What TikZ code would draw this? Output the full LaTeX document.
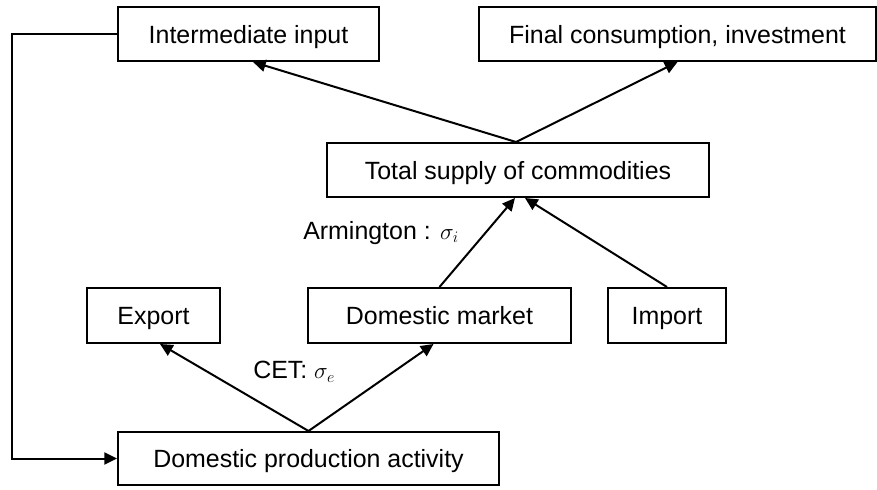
\documentclass[tikz,border=0pt]{standalone}
\usepackage{fontspec}
\setmainfont{Liberation Sans}
\usetikzlibrary{arrows.meta}
\tikzset{
  box/.style={draw, line width=1.5pt, inner sep=0pt, text height=16pt, text depth=2.5pt, font=\fontsize{18.7}{22}\selectfont},
  conn/.style={line width=1.5pt, -{Triangle[length=9.5pt,width=9pt]}},
  lbl/.style={font=\fontsize{18.7}{22}\selectfont, inner sep=0pt}
}
\begin{document}
\begin{tikzpicture}[x=0.75pt,y=-0.75pt]
\useasboundingbox (0,0) rectangle (877,489);
\node[box, minimum width=195.75pt, minimum height=40.5pt] (inter) at (248.5,34) {Intermediate input};
\node[box, minimum width=297.75pt, minimum height=40.5pt] (final) at (677.5,34) {Final consumption, investment};
\node[box, minimum width=286.5pt, minimum height=40.5pt] (total) at (518,170) {Total supply of commodities};
\node[box, minimum width=99.75pt, minimum height=41.25pt] (export) at (153.5,315.5) {Export};
\node[box, minimum width=197.25pt, minimum height=41.25pt] (dommkt) at (439.5,315.5) {Domestic market};
\node[box, minimum width=88.5pt, minimum height=41.25pt] (import) at (667,315.5) {Import};
\node[box, minimum width=285.75pt, minimum height=39.75pt] (prod) at (308.5,458.5) {Domestic production activity};

\draw[conn] ([xshift=-1.5pt]total.north) -- ([xshift=3.4pt]inter.south);
\draw[conn] ([xshift=-1.5pt]total.north) -- (final.south);
\draw[conn] (dommkt.north) -- ([xshift=-2.25pt]total.south);
\draw[conn] (import.north) -- ([xshift=5.25pt]total.south);
\draw[conn] (prod.north) -- ([xshift=4.9pt]export.south);
\draw[conn] (prod.north) -- ([xshift=-4.5pt]dommkt.south);
\draw[conn] (inter.west) -- ++(-105,0) |- (prod.west);

\node[lbl, anchor=west] (cet) at (253,372) {CET: $\sigma_e$};
\node[lbl, anchor=west] (arm) at (303,233) {Armington : $\sigma_i$};
\end{tikzpicture}
\end{document}
